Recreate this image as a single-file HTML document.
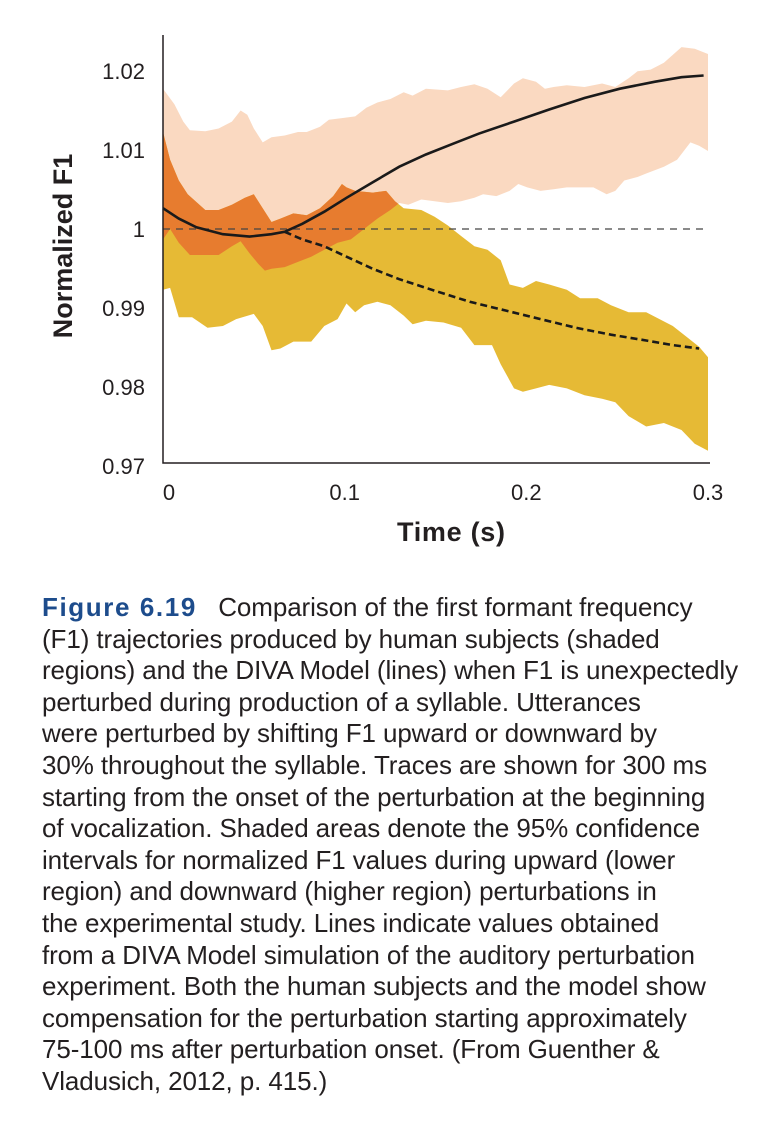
<!DOCTYPE html>
<html><head><meta charset="utf-8"><style>
body{margin:0;background:#fff;width:762px;height:1132px;overflow:hidden;position:relative;font-family:"Liberation Sans",sans-serif;}
#cap{position:absolute;left:42px;top:592px;font-size:26px;line-height:31.6px;color:#231f20;white-space:nowrap;letter-spacing:-0.1px;}
#cap b{color:#1d4c8c;font-weight:900;letter-spacing:1.6px;}
</style></head><body>
<svg id="chart" width="762" height="580" style="position:absolute;left:0;top:0" font-family="Liberation Sans, sans-serif">
<defs><clipPath id="yclip"><path id="yclipPath"/></clipPath></defs>
<g id="bands"></g>
<g id="axes"></g>
</svg>
<div id="cap">
<div><b>Figure 6.19</b>&nbsp;&nbsp; Comparison of the first formant frequency</div>
<div>(F1) trajectories produced by human subjects (shaded</div>
<div>regions) and the DIVA Model (lines) when F1 is unexpectedly</div>
<div>perturbed during production of a syllable. Utterances</div>
<div>were perturbed by shifting F1 upward or downward by</div>
<div>30% throughout the syllable. Traces are shown for 300 ms</div>
<div>starting from the onset of the perturbation at the beginning</div>
<div>of vocalization. Shaded areas denote the 95% confidence</div>
<div>intervals for normalized F1 values during upward (lower</div>
<div>region) and downward (higher region) perturbations in</div>
<div>the experimental study. Lines indicate values obtained</div>
<div>from a DIVA Model simulation of the auditory perturbation</div>
<div>experiment. Both the human subjects and the model show</div>
<div>compensation for the perturbation starting approximately</div>
<div>75-100 ms after perturbation onset. (From Guenther &amp;</div>
<div>Vladusich, 2012, p. 415.)</div>
</div>
<script>
const downUpperT=[0,6.3,11.2,14.8,23.3,30.6,37.9,42.7,46.4,50,54.9,59.7,67,74.3,79.1,86.4,91.3,98.5,105.8,111.9,118,125.2,132.5,137.4,144.7,156.8,164.1,171.4,178.6,185.9,193.2,198.1,205.3,210.2,215,222.3,232,241.7,249,256.3,261.2,268.4,275.7,285.4,292.7,300];
const downUpperV=[1.01776,1.01579,1.0136,1.0125,1.01237,1.01272,1.0136,1.015,1.01447,1.01272,1.01096,1.01162,1.01184,1.01228,1.01228,1.01294,1.01382,1.01404,1.01425,1.01535,1.01601,1.01645,1.01732,1.01689,1.01776,1.01754,1.01798,1.01833,1.01776,1.01667,1.01842,1.01908,1.01864,1.01776,1.01798,1.0182,1.01798,1.01842,1.01798,1.01908,1.01996,1.02018,1.02105,1.02303,1.02281,1.02215];
const downLowerT=[0,3.9,8.7,14.8,23.3,30.6,37.9,42.7,47.6,52.4,56.1,59.7,67,74.3,81.6,88.8,96.1,103.4,108.3,113.1,118,125.2,130.1,135,142.2,149.5,156.8,164.1,171.4,176.2,183.5,190.8,195.6,200.5,207.8,215,222.3,229.6,236.9,244.2,249,253.9,261.2,266,275.7,283,290.3,295.1,300];
const downLowerV=[0.99868,1.0,0.99825,0.99671,0.99671,0.99671,0.99781,0.99846,0.99693,0.99561,0.99474,0.99496,0.99518,0.99583,0.99649,0.99737,0.99825,0.99868,0.99956,1.00044,1.00132,1.00241,1.00329,1.00307,1.00373,1.00351,1.00329,1.00351,1.00395,1.00439,1.00417,1.00482,1.0057,1.00526,1.00482,1.00504,1.00526,1.00526,1.00526,1.00439,1.00482,1.00614,1.00658,1.00702,1.00789,1.00877,1.01096,1.01053,1.00987];
const upUpperT=[0,3.9,8.7,13.6,23.3,30.6,37.9,45.1,50,54.9,59.7,64.6,71.8,79.1,86.4,93.7,98.5,101,105.8,115.5,122.8,127.7,132.5,142.2,149.5,156.8,164.1,171.4,178.6,185.9,190.8,198.1,205.3,212.6,222.3,229.6,239.3,246.6,256.3,266,273.3,280.6,287.9,295.1,300];
const upUpperV=[1.01228,1.00877,1.00614,1.00439,1.00241,1.00241,1.00307,1.00395,1.00439,1.00263,1.00088,1.00132,1.00197,1.00175,1.00263,1.00417,1.0057,1.00526,1.00482,1.00461,1.00482,1.00351,1.00263,1.00241,1.00154,1.00044,0.99912,0.99781,0.99737,0.99605,0.99298,0.99254,0.99342,0.99298,0.99232,0.99123,0.99123,0.99035,0.98947,0.98947,0.9886,0.98772,0.9864,0.98509,0.98377];
const upLowerT=[0,3.9,8.7,16,24.5,33,40.3,50,54.9,59.7,64.6,71.8,81.6,88.8,96.1,101,105.8,110.7,118,125.2,132.5,137.4,144.7,154.4,164.1,171.4,181.1,185.9,193.2,198.1,205.3,212.6,222.3,232,241.7,249,256.3,266,275.7,285.4,292.7,300];
const upLowerV=[0.99232,0.99254,0.98882,0.98882,0.9875,0.98772,0.9886,0.98925,0.98772,0.98465,0.98487,0.98575,0.98575,0.98772,0.9886,0.99057,0.98947,0.99035,0.99079,0.99035,0.98904,0.98794,0.98838,0.98816,0.9875,0.98531,0.98531,0.98289,0.97982,0.97939,0.97982,0.98026,0.97982,0.97895,0.97851,0.97807,0.97632,0.975,0.97544,0.97456,0.97281,0.97193];
const modelDownT=[0,8.7,18.4,33,47.6,59.7,67,76.7,88.8,101,115.5,130.1,144.7,159.2,173.8,193.2,212.6,232,251.5,270.9,285.4,297.6];
const modelDownV=[1.00263,1.00132,1.00022,0.99934,0.99904,0.99934,0.99965,1.00066,1.00219,1.00395,1.00592,1.00789,1.00943,1.01075,1.01206,1.0136,1.01513,1.01658,1.01776,1.01864,1.01921,1.01943];
const modelUpT=[67,76.7,88.8,101,115.5,130.1,149.5,168.9,188.3,207.8,227.2,246.6,266,280.6,295.1];
const modelUpV=[0.99965,0.99868,0.99781,0.99649,0.99496,0.99364,0.99219,0.99079,0.98969,0.9886,0.9875,0.98662,0.98588,0.98531,0.98487];
const yTicks=[1.02,1.01,1,0.99,0.98,0.97];
const yTickLabels=["1.02","1.01","1","0.99","0.98","0.97"];
const xTicks=[0,100,200,300];
const xTickLabels=["0","0.1","0.2","0.3"];

const NS="http://www.w3.org/2000/svg";
const X=t=>163+t/300*545;
const Y=v=>229-(v-1)*7900;
function line(ts,vs){return ts.map((t,i)=>(i?"L":"M")+X(t).toFixed(1)+","+Y(vs[i]).toFixed(1)).join("");}
function band(tu,vu,tl,vl){return line(tu,vu)+line(tl.slice().reverse(),vl.slice().reverse()).replace("M","L")+"Z";}
function mk(tag,attrs,parent){const e=document.createElementNS(NS,tag);for(const k in attrs)e.setAttribute(k,attrs[k]);parent.appendChild(e);return e;}
const bands=document.getElementById("bands"),axes=document.getElementById("axes");
const dBand=band(downUpperT,downUpperV,downLowerT,downLowerV);
const uBand=band(upUpperT,upUpperV,upLowerT,upLowerV);
document.getElementById("yclipPath").setAttribute("d",uBand);
let e;
e=mk("path",{d:dBand,fill:"#fad9c1"},bands);


e=mk("path",{d:uBand,fill:"#e6ba35"},bands);


e=mk("path",{d:dBand,fill:"#e77c2f","clip-path":"url(#yclip)"},bands);


e=mk("line",{x1:163,x2:708,y1:Y(1),y2:Y(1),stroke:"#444","stroke-width":1.3,"stroke-dasharray":"7,6"},bands);


e=mk("path",{d:line(modelDownT,modelDownV),fill:"none",stroke:"#1a1a1a","stroke-width":2.6},bands);


e=mk("path",{d:line(modelUpT,modelUpV),fill:"none",stroke:"#1a1a1a","stroke-width":2.6,"stroke-dasharray":"7,4"},bands);


e=mk("path",{d:"M163,35V463H710",fill:"none",stroke:"#231f20","stroke-width":1.5},axes);


yTicks.forEach((v,i)=>{
  const t=mk("text",{x:145,y:Y(v)+8,"text-anchor":"end","font-size":22,fill:"#231f20"},axes);
  t.textContent=yTickLabels[i];
  
  
});
xTicks.forEach((tt,i)=>{
  const t=mk("text",{x:X(tt)+(i==0?6:0),y:500,"text-anchor":"middle","font-size":22,fill:"#231f20"},axes);
  t.textContent=xTickLabels[i];
  
  
});
e=mk("text",{x:451,y:541,"text-anchor":"middle","font-size":27,"font-weight":"bold",fill:"#231f20",textLength:108},axes);
e.textContent="Time (s)";


e=mk("text",{x:0,y:0,"text-anchor":"middle","font-size":27,"font-weight":"bold",fill:"#231f20",transform:"translate(72,246) rotate(-90)"},axes);
e.textContent="Normalized F1";


</script>
</body></html>
